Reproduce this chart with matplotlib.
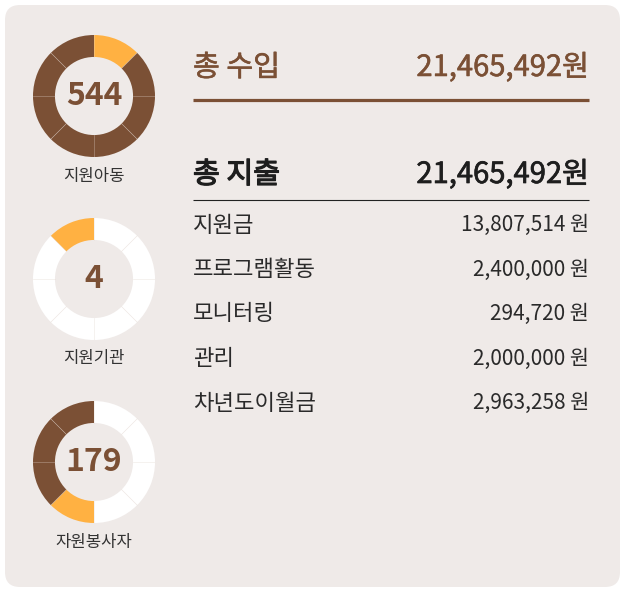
import matplotlib.pyplot as plt
from matplotlib.patches import FancyBboxPatch
import matplotlib.patheffects as pe
import numpy as np

plt.rcParams['font.family'] = ['Noto Sans CJK KR', 'DejaVu Sans']

# donut data: 8 segments each, 0 = empty, 1 = highlight, 2 = filled
donut_values = ['544', '4', '179']
donut_labels = ['지원아동', '지원기관', '자원봉사자']
donut_segments = [
    [1, 2, 2, 2, 2, 2, 2, 2],
    [0, 0, 0, 0, 0, 0, 0, 1],
    [0, 0, 0, 0, 1, 2, 2, 2],
]

income_label = '총 수입'
income_total = '21,465,492원'
expense_label = '총 지출'
expense_total = '21,465,492원'
items = ['지원금', '프로그램활동', '모니터링', '관리', '차년도이월금']
amounts = [13807514, 2400000, 294720, 2000000, 2963258]

BROWN = '#7b5035'
ORANGE = '#ffb142'
WHITE = '#ffffff'
BG = '#efeae8'
DARK = '#1e1e1e'
seg_colors = {0: WHITE, 1: ORANGE, 2: BROWN}

W, H = 620, 589
fig = plt.figure(figsize=(W / 100, H / 100), dpi=100)
fig.patch.set_facecolor('white')

ax = fig.add_axes([0, 0, 1, 1])
ax.set_xlim(0, W)
ax.set_ylim(H, 0)
ax.axis('off')

bg = FancyBboxPatch((5, 5), 615, 582, boxstyle='round,pad=0,rounding_size=15',
                    facecolor=BG, edgecolor='none')
ax.add_patch(bg)

# donuts
centers_y = [96, 279, 462]
cx, r = 94, 61
for i, cy in enumerate(centers_y):
    dax = fig.add_axes([(cx - r) / W, 1 - (cy + r) / H, 2 * r / W, 2 * r / H])
    segs = donut_segments[i]
    dax.pie([1] * len(segs), colors=[seg_colors[s] for s in segs], startangle=90,
            counterclock=False, radius=1, wedgeprops=dict(width=0.36, linewidth=0))
    # faint separators
    for k in range(len(segs)):
        a = np.deg2rad(90 - k * 360 / len(segs))
        dax.plot([0.64 * np.cos(a), np.cos(a)], [0.64 * np.sin(a), np.sin(a)],
                 color='#e2d6ce', lw=0.5, alpha=0.45)
    dax.set_xlim(-1, 1)
    dax.set_ylim(-1, 1)
    dax.axis('off')
    dax.text(0, 0, donut_values[i], ha='center', va='center', fontsize=23,
             fontweight='bold', color=BROWN)
    ax.text(cx, cy + 80, donut_labels[i], ha='center', va='center', fontsize=12,
            color='#333333')

# right side
x0, x1 = 193, 589
thick_b = [pe.withStroke(linewidth=0.4, foreground=BROWN)]
thick_d = [pe.withStroke(linewidth=0.5, foreground=DARK)]
ax.text(x0, 68, income_label, ha='left', va='center', fontsize=21,
        color=BROWN, path_effects=thick_b)
ax.text(x1, 68, income_total, ha='right', va='center', fontsize=21,
        color=BROWN, path_effects=thick_b)
ax.plot([x0, x1], [100, 100], color=BROWN, lw=2.3, solid_capstyle='butt')

ax.text(x0, 175, expense_label, ha='left', va='center', fontsize=21,
        color=DARK, path_effects=[pe.withStroke(linewidth=0.9, foreground=DARK)])
ax.text(x1, 175, expense_total, ha='right', va='center', fontsize=21,
        color=DARK, path_effects=thick_d)
ax.plot([x0, x1], [200, 200], color='#222222', lw=0.8, solid_capstyle='butt')

for j, (name, amt) in enumerate(zip(items, amounts)):
    y = 225 + j * 44.5
    ax.text(x0, y, name, ha='left', va='center', fontsize=16, color='#2a2a2a')
    ax.text(x1, y, '{:,} 원'.format(amt), ha='right', va='center', fontsize=15,
            color='#2a2a2a')

fig.savefig('out.png', dpi=100, facecolor=fig.get_facecolor())
